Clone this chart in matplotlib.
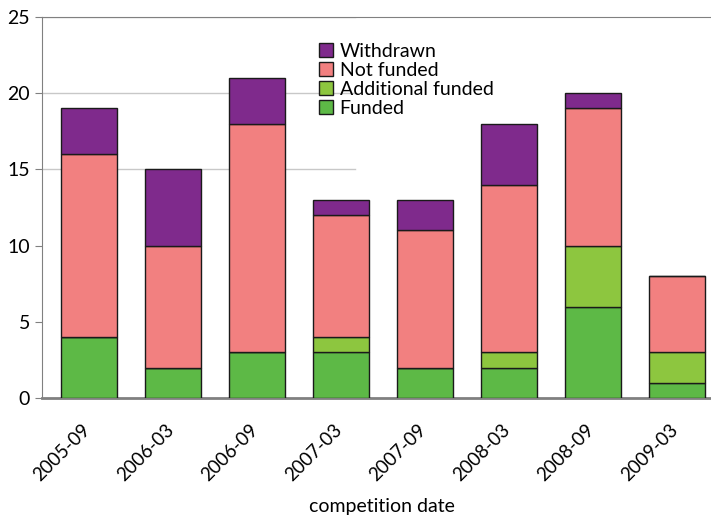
import numpy as np
import matplotlib.pyplot as plt
import matplotlib.transforms as mtransforms

plt.rcParams['font.family'] = ['Lato', 'DejaVu Sans']

dates = ['2005-09', '2006-03', '2006-09', '2007-03',
         '2007-09', '2008-03', '2008-09', '2009-03']
funded = [4, 2, 3, 3, 2, 2, 6, 1]
additional = [0, 0, 0, 1, 0, 1, 4, 2]
not_funded = [12, 8, 15, 8, 9, 11, 9, 5]
withdrawn = [3, 5, 3, 1, 2, 4, 1, 0]

series = [
    ('Funded', funded, '#5db946'),
    ('Additional funded', additional, '#8dc63f'),
    ('Not funded', not_funded, '#f28080'),
    ('Withdrawn', withdrawn, '#7f2a8c'),
]

fig = plt.figure(figsize=(7.11, 5.18), dpi=100)
ax = fig.add_axes([42 / 711, 1 - 398 / 518, 1 - 42 / 711, (398 - 17) / 518])

x = np.arange(len(dates))
bottom = np.zeros(len(dates))
handles = []
for label, vals, color in series:
    vals = np.array(vals, dtype=float)
    b = ax.bar(x, vals, width=0.667, bottom=bottom, color=color,
               edgecolor='#1a1a1a', linewidth=1.0, label=label, zorder=3)
    handles.append(b)
    bottom += vals

# partial gridlines as in the original
for yv in (15, 20, 25):
    ax.axhline(yv, xmin=0, xmax=0.468, color='#c8c8c8', linewidth=1.0, zorder=1)

ax.set_xlim(-0.56, 7.405)
ax.set_ylim(0, 25)
ax.set_yticks([0, 5, 10, 15, 20, 25])
ax.set_xticks(x)
ax.set_xticklabels(dates, rotation=45, ha='right', va='top',
                   rotation_mode='anchor', fontsize=13.5)
ax.tick_params(axis='y', labelsize=14, length=5, color='#808080', direction='out')
ax.tick_params(axis='x', length=0, pad=0)

# shift the date labels left/down like the original
offset = mtransforms.ScaledTranslation(-8 / 100, -23 / 100, fig.dpi_scale_trans)
for lbl in ax.get_xticklabels():
    lbl.set_transform(lbl.get_transform() + offset)

ax.spines['right'].set_visible(False)
ax.spines['top'].set_color('#808080')
ax.spines['left'].set_color('#808080')
ax.spines['bottom'].set_color('#808080')
ax.spines['bottom'].set_linewidth(2)

ax.set_xlabel('competition date', fontsize=14, va='center')
ax.xaxis.set_label_coords(0.508, -0.286)

leg = ax.legend(handles[::-1], [s[0] for s in series][::-1], loc='upper left',
                bbox_to_anchor=(0.40, 0.958), frameon=False, fontsize=14,
                handlelength=0.7, handleheight=0.7, handletextpad=0.35,
                labelspacing=0.1, borderpad=0)

fig.savefig('out.png', dpi=100)
